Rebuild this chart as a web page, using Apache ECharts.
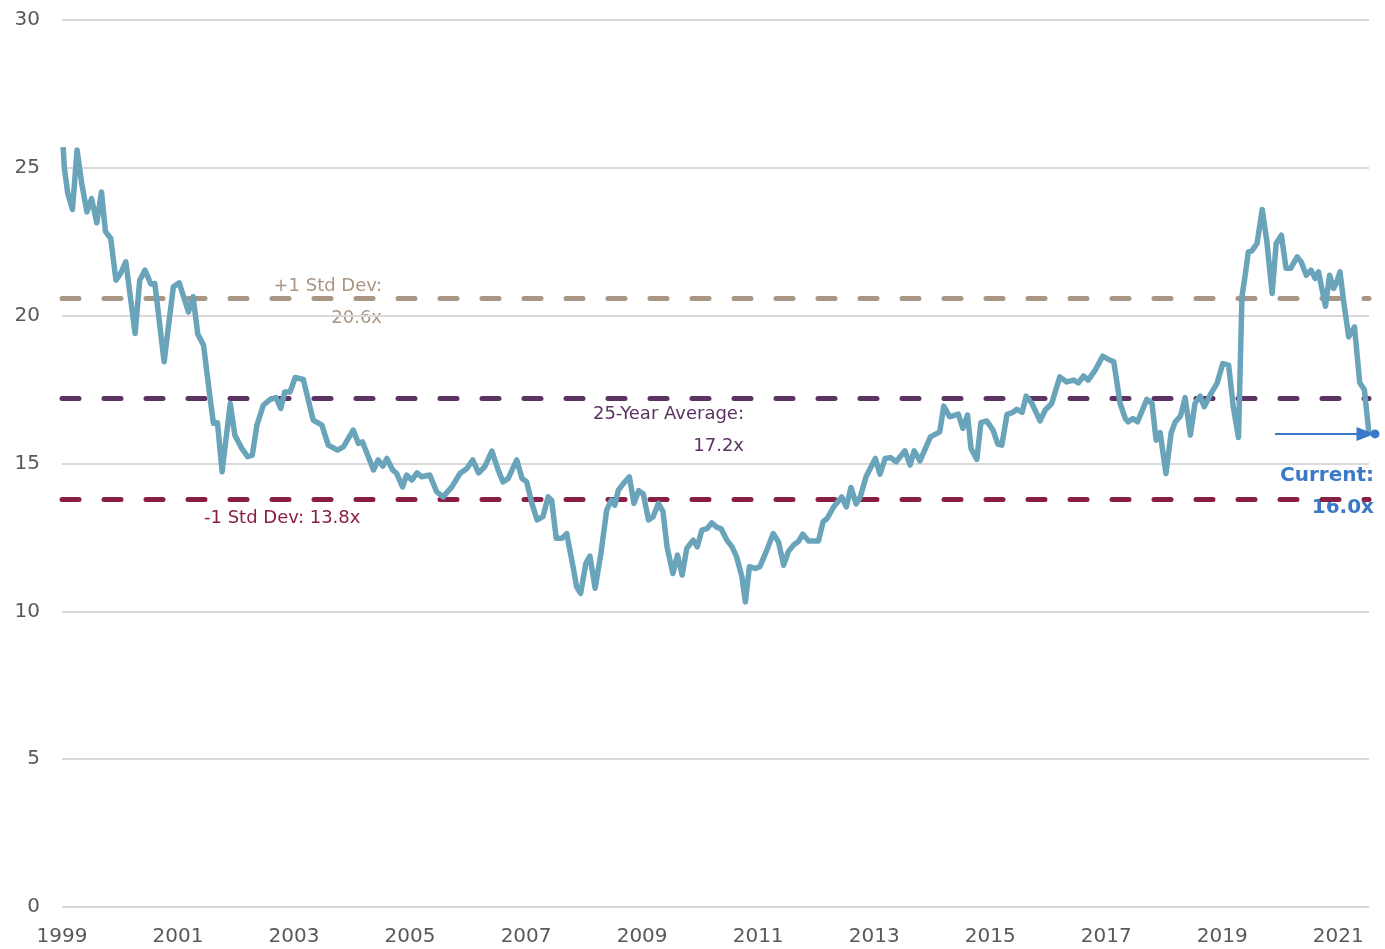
<!DOCTYPE html>
<html>
<head>
<meta charset="utf-8">
<title>P/E vs 25-year average</title>
<script src="https://cdn.jsdelivr.net/npm/echarts@6/dist/echarts.min.js"></script>
<style>
  html, body { margin: 0; padding: 0; background: #fff; }
  #chart { width: 1385px; height: 949px; }
</style>
</head>
<body>
<div id="chart"></div>
<script>
// decimal years
const dates = [
  1999.02, 1999.04, 1999.10, 1999.18, 1999.26, 1999.34, 1999.43, 1999.51, 1999.60, 1999.68,
  1999.75, 1999.84, 1999.93, 2000.01, 2000.10, 2000.26, 2000.34, 2000.43, 2000.53, 2000.60,
  2000.76, 2000.92, 2001.02, 2001.18, 2001.26, 2001.34, 2001.44, 2001.55, 2001.61, 2001.68,
  2001.76, 2001.90, 2001.98, 2002.10, 2002.20, 2002.28, 2002.36, 2002.47, 2002.59, 2002.69,
  2002.77, 2002.84, 2002.93, 2003.02, 2003.16, 2003.33, 2003.48, 2003.59, 2003.75, 2003.85,
  2004.02, 2004.11, 2004.18, 2004.37, 2004.45, 2004.53, 2004.60, 2004.70, 2004.77, 2004.87,
  2004.94, 2005.03, 2005.12, 2005.20, 2005.34, 2005.46, 2005.57, 2005.72, 2005.86, 2005.98,
  2006.08, 2006.18, 2006.29, 2006.41, 2006.52, 2006.60, 2006.69, 2006.84, 2006.93, 2007.01,
  2007.10, 2007.19, 2007.29, 2007.38, 2007.44, 2007.52, 2007.62, 2007.70, 2007.82, 2007.87,
  2007.94, 2008.03, 2008.10, 2008.19, 2008.29, 2008.39, 2008.47, 2008.53, 2008.59, 2008.68,
  2008.78, 2008.86, 2008.94, 2009.02, 2009.11, 2009.19, 2009.28, 2009.36, 2009.43, 2009.53,
  2009.61, 2009.69, 2009.77, 2009.88, 2009.95, 2010.03, 2010.12, 2010.20, 2010.29, 2010.36,
  2010.46, 2010.55, 2010.63, 2010.72, 2010.78, 2010.85, 2010.95, 2011.03, 2011.15, 2011.26,
  2011.35, 2011.44, 2011.52, 2011.61, 2011.69, 2011.77, 2011.87, 2012.04, 2012.12, 2012.19,
  2012.30, 2012.44, 2012.52, 2012.60, 2012.69, 2012.76, 2012.86, 2013.02, 2013.10, 2013.19,
  2013.28, 2013.38, 2013.53, 2013.62, 2013.69, 2013.79, 2013.97, 2014.13, 2014.20, 2014.30,
  2014.45, 2014.53, 2014.61, 2014.67, 2014.77, 2014.84, 2014.94, 2015.05, 2015.13, 2015.20,
  2015.29, 2015.37, 2015.46, 2015.55, 2015.62, 2015.72, 2015.86, 2015.95, 2016.06, 2016.20,
  2016.32, 2016.44, 2016.52, 2016.61, 2016.69, 2016.81, 2016.94, 2017.04, 2017.13, 2017.24,
  2017.33, 2017.38, 2017.46, 2017.54, 2017.70, 2017.79, 2017.86, 2017.93, 2018.03, 2018.12,
  2018.19, 2018.28, 2018.36, 2018.45, 2018.53, 2018.62, 2018.69, 2018.79, 2018.91, 2019.01,
  2019.11, 2019.19, 2019.28, 2019.34, 2019.40, 2019.45, 2019.51, 2019.60, 2019.69, 2019.77,
  2019.86, 2019.93, 2020.02, 2020.10, 2020.18, 2020.29, 2020.36, 2020.45, 2020.53, 2020.60,
  2020.66, 2020.70, 2020.78, 2020.85, 2020.92, 2020.97, 2021.03, 2021.09, 2021.18, 2021.28,
  2021.37, 2021.45, 2021.53
];

// forward P/E multiple
const peRatio = [
  25.7, 25.0, 24.13, 23.59, 25.6, 24.47, 23.51, 23.96, 23.14, 24.18,
  22.84, 22.61, 21.2, 21.43, 21.82, 19.40, 21.2, 21.54, 21.07, 21.09,
  18.44, 20.98, 21.11, 20.13, 20.64, 19.38, 19.0, 17.26, 16.36, 16.38,
  14.72, 17.03, 15.96, 15.51, 15.23, 15.28, 16.3, 16.97, 17.17, 17.23,
  16.86, 17.42, 17.42, 17.91, 17.84, 16.47, 16.30, 15.62, 15.45, 15.56,
  16.13, 15.68, 15.73, 14.78, 15.12, 14.91, 15.17, 14.78, 14.66, 14.21,
  14.61, 14.44, 14.68, 14.55, 14.61, 14.04, 13.87, 14.21, 14.66, 14.83,
  15.12, 14.68, 14.9, 15.42, 14.78, 14.38, 14.49, 15.12, 14.49, 14.38,
  13.65, 13.09, 13.2, 13.87, 13.76, 12.47, 12.47, 12.63, 11.40, 10.83,
  10.61, 11.62, 11.87, 10.78, 11.96, 13.43, 13.76, 13.59, 14.10, 14.33,
  14.55, 13.65, 14.08, 13.97, 13.09, 13.2, 13.65, 13.37, 12.18, 11.28,
  11.9, 11.23, 12.13, 12.41, 12.18, 12.75, 12.80, 12.99, 12.84, 12.80,
  12.41, 12.18, 11.84, 11.17, 10.32, 11.51, 11.45, 11.51, 12.07, 12.63,
  12.35, 11.56, 12.02, 12.24, 12.35, 12.61, 12.38, 12.38, 13.03, 13.14,
  13.53, 13.87, 13.53, 14.19, 13.63, 13.87, 14.55, 15.17, 14.64, 15.17,
  15.20, 15.06, 15.43, 14.95, 15.43, 15.09, 15.90, 16.07, 16.94, 16.58,
  16.67, 16.19, 16.64, 15.51, 15.14, 16.38, 16.44, 16.13, 15.66, 15.62,
  16.66, 16.71, 16.83, 16.73, 17.28, 17.03, 16.44, 16.81, 17.03, 17.93,
  17.76, 17.82, 17.73, 17.96, 17.82, 18.16, 18.63, 18.52, 18.44, 17.03,
  16.52, 16.41, 16.52, 16.41, 17.17, 17.03, 15.79, 16.04, 14.66, 16.04,
  16.41, 16.6, 17.23, 15.96, 17.03, 17.28, 16.92, 17.31, 17.71, 18.38,
  18.33, 16.92, 15.88, 20.64, 21.43, 22.16, 22.19, 22.44, 23.59, 22.50,
  20.75, 22.44, 22.72, 21.60, 21.60, 21.99, 21.82, 21.37, 21.54, 21.26,
  21.48, 21.09, 20.32, 21.37, 20.92, 21.11, 21.48, 20.53, 19.28, 19.62,
  17.73, 17.50, 16.0
];

// reference levels
const refNames = ['+1 Std Dev', '25-Year Average', '-1 Std Dev'];
const refValues = [20.6, 17.2, 13.8];
const refColors = ['#a89584', '#5b3262', '#8a1f45'];

const currentValue = 16.0;
const yTicks = [0, 5, 10, 15, 20, 25, 30];

const FONT = '"DejaVu Sans", "Noto Sans", sans-serif';
const CUR_COLOR = '#3a78c8';

const chart = echarts.init(document.getElementById('chart'));

const seriesData = dates.map((d, i) => [d, peRatio[i]]);
const lastDate = dates[dates.length - 1];

const refLines = refValues.map((v, i) => ({
  yAxis: v,
  lineStyle: { color: refColors[i], width: 5, type: [17, 25], cap: 'round' }
}));

// small helper for the floating annotations
const label = (x, y, text, color, align, font) => ({
  type: 'text',
  x: x,
  y: y,
  silent: true,
  style: { text: text, fill: color, font: font || ('18px ' + FONT), align: align, verticalAlign: 'middle' }
});

const option = {
  animation: false,
  grid: { left: 62, right: 16, top: 20, bottom: 42 },
  xAxis: {
    type: 'value',
    min: 1999,
    max: lastDate,
    interval: 2,
    splitLine: { show: false },
    axisTick: { show: false },
    axisLine: { show: false },
    axisLabel: {
      showMaxLabel: false,
      color: '#595959',
      fontSize: 20,
      fontFamily: FONT,
      margin: 20,
      formatter: v => String(v)
    }
  },
  yAxis: {
    type: 'value',
    min: yTicks[0],
    max: yTicks[yTicks.length - 1],
    interval: 5,
    axisLine: { show: false },
    axisTick: { show: false },
    splitLine: { lineStyle: { color: '#d9d9d9', width: 2 } },
    axisLabel: { color: '#595959', fontSize: 20, fontFamily: FONT, margin: 22 }
  },
  series: [
    {
      type: 'line',
      data: seriesData,
      showSymbol: false,
      z: 2,
      lineStyle: { color: '#69a4bb', width: 5.5, join: 'round' },
      markLine: {
        silent: true,
        symbol: ['none', 'none'],
        label: { show: false },
        z: 1,
        data: refLines
      }
    },
    {
      // current value arrow + dot
      type: 'line',
      data: [],
      z: 5,
      markLine: {
        silent: true,
        symbol: ['none', 'triangle'],
        symbolSize: [14, 18],
        label: { show: false },
        lineStyle: { color: CUR_COLOR, width: 2, type: 'solid' },
        data: [[{ coord: [2019.91, currentValue] }, { coord: [2021.47, currentValue] }]]
      },
      markPoint: {
        silent: true,
        symbol: 'circle',
        symbolSize: 9,
        symbolOffset: [6, 0],
        itemStyle: { color: CUR_COLOR },
        label: { show: false },
        data: [{ coord: [lastDate, currentValue] }]
      }
    }
  ],
  graphic: [
    label(382, 286, refNames[0] + ':', refColors[0], 'right'),
    label(382, 318, refValues[0].toFixed(1) + 'x', refColors[0], 'right'),
    label(744, 414, refNames[1] + ':', refColors[1], 'right'),
    label(744, 446, refValues[1].toFixed(1) + 'x', refColors[1], 'right'),
    label(204, 518, refNames[2] + ': ' + refValues[2].toFixed(1) + 'x', refColors[2], 'left'),
    label(1374, 476, 'Current:', CUR_COLOR, 'right', 'bold 20px ' + FONT),
    label(1374, 508, currentValue.toFixed(1) + 'x', CUR_COLOR, 'right', 'bold 20px ' + FONT)
  ]
};

chart.setOption(option);
</script>
</body>
</html>
